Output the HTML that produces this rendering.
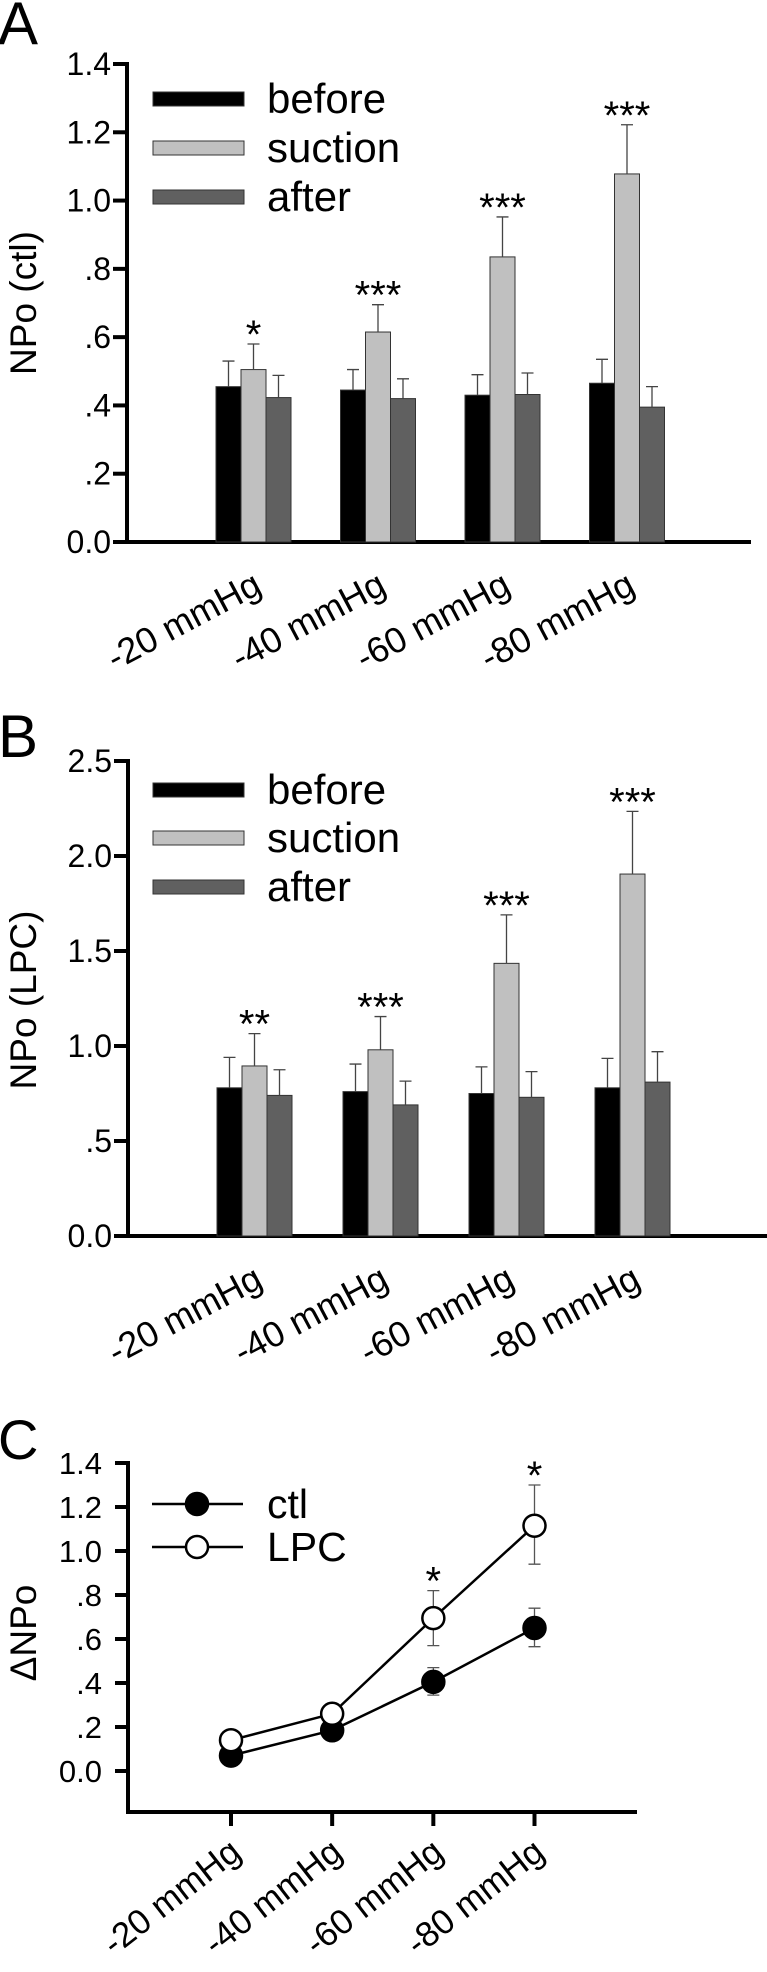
<!DOCTYPE html>
<html><head><meta charset="utf-8"><style>
html,body{margin:0;padding:0;background:#fff;}
svg{display:block;font-family:"Liberation Sans",Arial,sans-serif;}
</style></head><body>
<svg id="fig" width="767" height="1972" viewBox="0 0 767 1972" xmlns="http://www.w3.org/2000/svg"></svg>
<script>
const categories = ["-20 mmHg","-40 mmHg","-60 mmHg","-80 mmHg"];
const seriesNames = ["before","suction","after"];
const aBefore = [0.455,0.445,0.43,0.465];
const aBeforeErr = [0.075,0.06,0.06,0.07];
const aSuction = [0.505,0.615,0.835,1.078];
const aSuctionErr = [0.075,0.08,0.117,0.144];
const aAfter = [0.423,0.42,0.432,0.395];
const aAfterErr = [0.065,0.058,0.063,0.06];
const aStars = ["*","***","***","***"];
const aTicks = [0,0.2,0.4,0.6,0.8,1.0,1.2,1.4];
const aTickLabels = ["0.0",".2",".4",".6",".8","1.0","1.2","1.4"];
const bBefore = [0.78,0.76,0.75,0.78];
const bBeforeErr = [0.16,0.145,0.14,0.155];
const bSuction = [0.895,0.98,1.435,1.905];
const bSuctionErr = [0.17,0.175,0.255,0.33];
const bAfter = [0.74,0.69,0.73,0.81];
const bAfterErr = [0.135,0.125,0.135,0.16];
const bStars = ["**","***","***","***"];
const bTicks = [0,0.5,1.0,1.5,2.0,2.5];
const bTickLabels = ["0.0",".5","1.0","1.5","2.0","2.5"];
const cCtl = [0.07,0.185,0.405,0.65];
const cCtlErrUp = [0,0,0.065,0.09];
const cCtlErrDn = [0,0,0.06,0.085];
const cLpc = [0.14,0.26,0.695,1.115];
const cLpcErrUp = [0,0.04,0.125,0.185];
const cLpcErrDn = [0,0,0.125,0.175];
const cStars = ["","","*","*"];
const cTicks = [0,0.2,0.4,0.6,0.8,1.0,1.2,1.4];
const cTickLabels = ["0.0",".2",".4",".6",".8","1.0","1.2","1.4"];

const NS="http://www.w3.org/2000/svg";
const svg=document.getElementById('fig');
function mk(tag,attrs,parent,text){const e=document.createElementNS(NS,tag);for(const k in attrs)e.setAttribute(k,attrs[k]);if(text!==undefined)e.textContent=text;(parent||svg).appendChild(e);return e;}
const colors=["#000000","#c0c0c0","#606060"];

function barPanel(o){
  const g=mk('g',{});
  
  
  const y=v=>o.y0-(v/o.ymax)*(o.y0-o.ytop);
  const lab=mk('text',{x:-2,y:o.labelY,'font-size':60},g,o.letter);
  
  
  const ya=mk('line',{x1:o.ax,y1:o.ytop-2,x2:o.ax,y2:o.y0+2,stroke:'#000','stroke-width':4},g);
  
  
  const xa=mk('line',{x1:o.ax-14,y1:o.y0,x2:o.xend,y2:o.y0,stroke:'#000','stroke-width':4},g);
  
  
  o.ticks.forEach((t,i)=>{
    const tk=mk('line',{x1:o.ax-14,y1:y(t),x2:o.ax,y2:y(t),stroke:'#000','stroke-width':4},g);
    
    
    const tl=mk('text',{x:o.ax-16,y:y(t)+11,'font-size':32,'text-anchor':'end'},g,o.tickLabels[i]);
    
    
  });
  const yt=mk('text',{x:0,y:0,'font-size':37,'text-anchor':'middle',transform:`translate(36,${o.titleY}) rotate(-90)`},g,o.title);
  
  
  const vals=[o.before,o.suction,o.after], errs=[o.beforeErr,o.suctionErr,o.afterErr];
  const bw=25;
  categories.forEach((c,ci)=>{
    const gx=o.gx0+ci*o.gstep;
    vals.forEach((arr,si)=>{
      const x=gx+si*bw, top=y(arr[ci]);
      const r=mk('rect',{x:x,y:top,width:bw,height:o.y0-top,fill:colors[si],stroke:'#333','stroke-width':1},g);
      
      
      const et=y(arr[ci]+errs[si][ci]), cx=x+bw/2;
      const el=mk('path',{d:`M${cx},${top}V${et}M${cx-6},${et}H${cx+6}`,stroke:'#444','stroke-width':1.3,fill:'none'},g);
      
      
      if(si===1){
        const st=mk('text',{x:cx,y:et+4,'font-size':40,'text-anchor':'middle'},g,o.stars[ci]);
        
        
      }
    });
    const xl=mk('text',{x:0,y:0,'font-size':36,'text-anchor':'end',transform:`translate(${gx+bw*1.5+10},${o.y0+50}) rotate(-28)`},g,c);
    
    
  });
  seriesNames.forEach((n,si)=>{
    const ly=o.legY[si];
    const sw=mk('rect',{x:153,y:ly-7,width:91,height:14,fill:colors[si],stroke:'#333','stroke-width':1},g);
    
    
    const lt=mk('text',{x:267,y:ly+14,'font-size':42},g,n);
    
    
  });
}

barPanel({name:'panel-a',letter:'A',labelY:44,ax:127,ytop:64,y0:542,ymax:1.4,xend:751,gx0:216,gstep:124.5,
  ticks:aTicks,tickLabels:aTickLabels,title:'NPo  (ctl)',titleY:303,before:aBefore,beforeErr:aBeforeErr,
  suction:aSuction,suctionErr:aSuctionErr,after:aAfter,afterErr:aAfterErr,stars:aStars,legY:[99,148,197]});
barPanel({name:'panel-b',letter:'B',labelY:757,ax:128,ytop:761,y0:1236,ymax:2.5,xend:767,gx0:217,gstep:126,
  ticks:bTicks,tickLabels:bTickLabels,title:'NPo (LPC)',titleY:1000,before:bBefore,beforeErr:bBeforeErr,
  suction:bSuction,suctionErr:bSuctionErr,after:bAfter,afterErr:bAfterErr,stars:bStars,legY:[790,838,887]});

(function(){
  const g=mk('g',{});
  
  
  const ax=128, ytop=1463, y0=1771, ymax=1.4, yb=1812;
  const y=v=>y0-(v/ymax)*(y0-ytop);
  const xs=[231,332,433,534.5];
  const x=i=>xs[0]+(xs[3]-xs[0])*i/(categories.length-1);
  const lab=mk('text',{x:-2,y:1459,'font-size':56},g,'C');
  
  
  const ya=mk('line',{x1:ax,y1:ytop-2,x2:ax,y2:yb+2,stroke:'#000','stroke-width':4},g);
  
  
  const xa=mk('line',{x1:ax-2,y1:yb,x2:637,y2:yb,stroke:'#000','stroke-width':4},g);
  
  
  cTicks.forEach((t,i)=>{
    const tk=mk('line',{x1:ax-13,y1:y(t),x2:ax,y2:y(t),stroke:'#000','stroke-width':4},g);
    
    
    const tl=mk('text',{x:ax-26,y:y(t)+11,'font-size':31,'text-anchor':'end'},g,cTickLabels[i]);
    
    
  });
  const yt=mk('text',{x:0,y:0,'font-size':37,'text-anchor':'middle',transform:`translate(36,1633) rotate(-90)`},g,'ΔNPo');
  
  
  categories.forEach((c,i)=>{
    const tk=mk('line',{x1:x(i),y1:yb,x2:x(i),y2:yb+14,stroke:'#000','stroke-width':4},g);
    
    
    const xl=mk('text',{x:0,y:0,'font-size':35,'text-anchor':'end',transform:`translate(${x(i)+12},${yb+44}) rotate(-38)`},g,c);
    
    
  });
  function series(vals,up,dn,fill,name){
    let d='';
    vals.forEach((v,i)=>{d+=(i?'L':'M')+x(i)+','+y(v);});
    const ln=mk('path',{d:d,stroke:'#000','stroke-width':2.5,fill:'none'},g);
    
    
    vals.forEach((v,i)=>{
      if(up[i]||dn[i]){
        const t=y(v+up[i]), b=y(v-dn[i]), cx=x(i);
        const e=mk('path',{d:`M${cx},${t}V${b}M${cx-6},${t}H${cx+6}M${cx-6},${b}H${cx+6}`,stroke:'#555','stroke-width':1.3,fill:'none'},g);
        
        
      }
    });
    vals.forEach((v,i)=>{
      const p=mk('circle',{cx:x(i),cy:y(v),r:11,fill:fill,stroke:'#000','stroke-width':2.5},g);
      
      
    });
  }
  series(cCtl,cCtlErrUp,cCtlErrDn,'#000','ctl');
  series(cLpc,cLpcErrUp,cLpcErrDn,'#fff','lpc');
  cStars.forEach((s,i)=>{
    if(!s)return;
    const st=mk('text',{x:x(i),y:y(cLpc[i]+cLpcErrUp[i])+4,'font-size':40,'text-anchor':'middle'},g,s);
    
    
  });
  [['ctl','#000',1504],['LPC','#fff',1547]].forEach(([n,f,ly])=>{
    const l=mk('line',{x1:152,y1:ly,x2:243,y2:ly,stroke:'#000','stroke-width':2.5},g);
    
    
    const c=mk('circle',{cx:197,cy:ly,r:11,fill:f,stroke:'#000','stroke-width':2.5},g);
    
    
    const t=mk('text',{x:267,y:ly+14,'font-size':41},g,n);
    
    
  });
})();
</script>
</body></html>
